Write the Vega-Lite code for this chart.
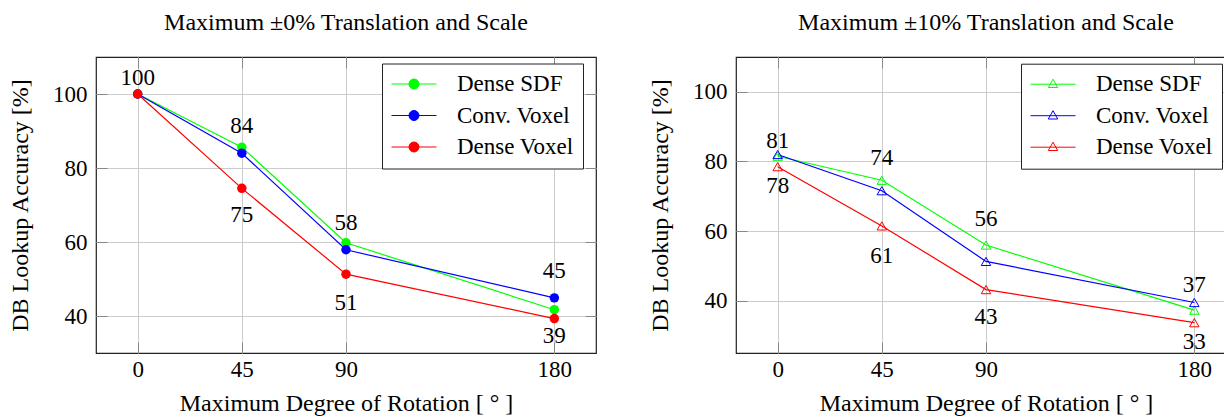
{
  "$schema": "https://vega.github.io/schema/vega-lite/v6.json",
  "padding": {"left": 7, "top": 9, "right": 0, "bottom": 0},
  "bounds": "flush",
  "spacing": 140,
  "config": {
    "font": "Liberation Serif",
    "view": {"stroke": "#222222", "strokeWidth": 1.2},
    "axis": {
      "labelFont": "Liberation Serif", "labelFontSize": 23, "labelColor": "black",
      "titleFont": "Liberation Serif", "titleFontSize": 24, "titleFontWeight": "normal", "titleColor": "black",
      "gridColor": "#cccccc", "gridWidth": 1, "domain": false,
      "tickColor": "#888888", "tickSize": -11, "tickWidth": 1
    },
    "title": {"font": "Liberation Serif", "fontSize": 24, "fontWeight": "normal", "color": "black"},
    "text": {"font": "Liberation Serif"}
  },
  "datasets": {
    "p0": [
      {"series": "Dense SDF", "deg": 0, "acc": 100},
      {"series": "Dense SDF", "deg": 45, "acc": 85.6},
      {"series": "Dense SDF", "deg": 90, "acc": 59.8},
      {"series": "Dense SDF", "deg": 180, "acc": 41.7},
      {"series": "Conv. Voxel", "deg": 0, "acc": 100},
      {"series": "Conv. Voxel", "deg": 45, "acc": 84.0},
      {"series": "Conv. Voxel", "deg": 90, "acc": 57.9},
      {"series": "Conv. Voxel", "deg": 180, "acc": 44.9},
      {"series": "Dense Voxel", "deg": 0, "acc": 100},
      {"series": "Dense Voxel", "deg": 45, "acc": 74.5},
      {"series": "Dense Voxel", "deg": 90, "acc": 51.3},
      {"series": "Dense Voxel", "deg": 180, "acc": 39.3}
    ],
    "l0": [
      {"deg": 0, "ly": 104.2, "label": "100"},
      {"deg": 45, "ly": 91.4, "label": "84"},
      {"deg": 45, "ly": 67.2, "label": "75"},
      {"deg": 90, "ly": 65.1, "label": "58"},
      {"deg": 90, "ly": 43.4, "label": "51"},
      {"deg": 180, "ly": 52.1, "label": "45"},
      {"deg": 180, "ly": 34.5, "label": "39"}
    ],
    "p1": [
      {"series": "Dense SDF", "deg": 0, "acc": 81.5},
      {"series": "Dense SDF", "deg": 45, "acc": 74.6},
      {"series": "Dense SDF", "deg": 90, "acc": 56.0},
      {"series": "Dense SDF", "deg": 180, "acc": 37.3},
      {"series": "Conv. Voxel", "deg": 0, "acc": 82.0},
      {"series": "Conv. Voxel", "deg": 45, "acc": 71.6},
      {"series": "Conv. Voxel", "deg": 90, "acc": 51.3},
      {"series": "Conv. Voxel", "deg": 180, "acc": 39.5},
      {"series": "Dense Voxel", "deg": 0, "acc": 78.5},
      {"series": "Dense Voxel", "deg": 45, "acc": 61.5},
      {"series": "Dense Voxel", "deg": 90, "acc": 43.2},
      {"series": "Dense Voxel", "deg": 180, "acc": 33.7}
    ],
    "l1": [
      {"deg": 0, "ly": 85.9, "label": "81"},
      {"deg": 0, "ly": 73.0, "label": "78"},
      {"deg": 45, "ly": 80.9, "label": "74"},
      {"deg": 45, "ly": 52.9, "label": "61"},
      {"deg": 90, "ly": 63.4, "label": "56"},
      {"deg": 90, "ly": 35.2, "label": "43"},
      {"deg": 180, "ly": 44.5, "label": "37"},
      {"deg": 180, "ly": 28.2, "label": "33"}
    ]
  },
  "resolve": {
    "scale": {"x": "independent", "y": "independent", "color": "independent"},
    "legend": {"color": "independent"}
  },
  "hconcat": [
    {
      "width": 500, "height": 296,
      "title": {"text": "Maximum ±0% Translation and Scale", "baseline": "alphabetic", "offset": 3},
      "resolve": {"axis": {"x": "independent", "y": "independent"}},
      "layer": [
        {
          "data": {"name": "p0"},
          "mark": {"type": "line", "strokeWidth": 1.2},
          "encoding": {
            "x": {"field": "deg", "type": "quantitative",
                  "scale": {"domain": [-18, 198], "nice": false, "zero": false},
                  "axis": {"values": [0, 45, 90, 180], "title": "Maximum Degree of Rotation [ ° ]", "labelPadding": 16, "titlePadding": 10}},
            "y": {"field": "acc", "type": "quantitative",
                  "scale": {"domain": [30, 110], "nice": false, "zero": false},
                  "axis": {"values": [40, 60, 80, 100], "title": "DB Lookup Accuracy [%]", "labelPadding": 20, "titlePadding": 20}},
            "color": {"field": "series", "type": "nominal",
                      "scale": {"domain": ["Dense SDF", "Conv. Voxel", "Dense Voxel"], "range": ["#00ff00", "#0000ff", "#ff0000"]},
                      "legend": {
                        "title": null, "orient": "none", "legendX": 286, "legendY": 6.5,
                        "symbolType": "M-1.1,0H3.4M1.65,0A0.5,0.5 0 1 1 0.65,0A0.5,0.5 0 1 1 1.65,0",
                        "symbolSize": 400, "symbolStrokeWidth": 1,
                        "labelFont": "Liberation Serif", "labelFontSize": 23, "labelColor": "black", "labelOffset": 43,
                        "padding": 9, "rowPadding": 7.5,
                        "fillColor": "white", "strokeColor": "#222222",
                        "encode": {"symbols": {"update": {
                          "fill": {"signal": "datum.value === 'Dense SDF' ? '#00ff00' : datum.value === 'Conv. Voxel' ? '#0000ff' : '#ff0000'"},
                          "stroke": {"signal": "datum.value === 'Dense SDF' ? '#00ff00' : datum.value === 'Conv. Voxel' ? '#0000ff' : '#ff0000'"},
                          "opacity": {"value": 1}}}}
                      }}
          }
        },
        {
          "data": {"name": "p0"},
          "mark": {"type": "point", "filled": true, "size": 90, "opacity": 1, "shape": "circle"},
          "encoding": {
            "x": {"field": "deg", "type": "quantitative", "axis": null},
            "y": {"field": "acc", "type": "quantitative", "axis": null},
            "color": {"field": "series", "type": "nominal",
                      "scale": {"domain": ["Dense SDF", "Conv. Voxel", "Dense Voxel"], "range": ["#00ff00", "#0000ff", "#ff0000"]},
                      "legend": {
                        "title": null, "orient": "none", "legendX": 286, "legendY": 6.5,
                        "symbolType": "M-1.1,0H3.4M1.65,0A0.5,0.5 0 1 1 0.65,0A0.5,0.5 0 1 1 1.65,0",
                        "symbolSize": 400, "symbolStrokeWidth": 1,
                        "labelFont": "Liberation Serif", "labelFontSize": 23, "labelColor": "black", "labelOffset": 43,
                        "padding": 9, "rowPadding": 7.5,
                        "fillColor": "white", "strokeColor": "#222222",
                        "encode": {"symbols": {"update": {
                          "fill": {"signal": "datum.value === 'Dense SDF' ? '#00ff00' : datum.value === 'Conv. Voxel' ? '#0000ff' : '#ff0000'"},
                          "stroke": {"signal": "datum.value === 'Dense SDF' ? '#00ff00' : datum.value === 'Conv. Voxel' ? '#0000ff' : '#ff0000'"},
                          "opacity": {"value": 1}}}}
                      }}
          }
        },
        {
          "data": {"name": "l0"},
          "mark": {"type": "text", "fontSize": 23, "baseline": "middle", "color": "black"},
          "encoding": {
            "x": {"field": "deg", "type": "quantitative",
                  "axis": {"orient": "top", "values": [0, 45, 90, 180], "labels": false, "grid": false, "title": null, "minExtent": 0, "maxExtent": 0}},
            "y": {"field": "ly", "type": "quantitative",
                  "axis": {"orient": "right", "values": [40, 60, 80, 100], "labels": false, "grid": false, "title": null, "minExtent": 0, "maxExtent": 0}},
            "text": {"field": "label"}
          }
        }
      ]
    },
    {
      "width": 500, "height": 296,
      "title": {"text": "Maximum ±10% Translation and Scale", "baseline": "alphabetic", "offset": 3},
      "resolve": {"axis": {"x": "independent", "y": "independent"}},
      "layer": [
        {
          "data": {"name": "p1"},
          "mark": {"type": "line", "strokeWidth": 1.2},
          "encoding": {
            "x": {"field": "deg", "type": "quantitative",
                  "scale": {"domain": [-18, 198], "nice": false, "zero": false},
                  "axis": {"values": [0, 45, 90, 180], "title": "Maximum Degree of Rotation [ ° ]", "labelPadding": 16, "titlePadding": 10}},
            "y": {"field": "acc", "type": "quantitative",
                  "scale": {"domain": [25, 110], "nice": false, "zero": false},
                  "axis": {"values": [40, 60, 80, 100], "title": "DB Lookup Accuracy [%]", "labelPadding": 20, "titlePadding": 20}},
            "color": {"field": "series", "type": "nominal",
                      "scale": {"domain": ["Dense SDF", "Conv. Voxel", "Dense Voxel"], "range": ["#00ff00", "#0000ff", "#ff0000"]},
                      "legend": {
                        "title": null, "orient": "none", "legendX": 285, "legendY": 6.7,
                        "symbolType": "M-1.1,0H3.4M1.15,-0.5L1.62,0.33L0.68,0.33Z",
                        "symbolSize": 400, "symbolStrokeWidth": 1,
                        "labelFont": "Liberation Serif", "labelFontSize": 23, "labelColor": "black", "labelOffset": 43,
                        "padding": 9, "rowPadding": 7.5,
                        "fillColor": "white", "strokeColor": "#222222",
                        "encode": {"symbols": {"update": {
                          "fill": {"value": "transparent"},
                          "stroke": {"signal": "datum.value === 'Dense SDF' ? '#00ff00' : datum.value === 'Conv. Voxel' ? '#0000ff' : '#ff0000'"},
                          "opacity": {"value": 1}}}}
                      }}
          }
        },
        {
          "data": {"name": "p1"},
          "mark": {"type": "point", "filled": false, "size": 90, "opacity": 1, "shape": "triangle-up", "strokeWidth": 1},
          "encoding": {
            "x": {"field": "deg", "type": "quantitative", "axis": null},
            "y": {"field": "acc", "type": "quantitative", "axis": null},
            "color": {"field": "series", "type": "nominal",
                      "scale": {"domain": ["Dense SDF", "Conv. Voxel", "Dense Voxel"], "range": ["#00ff00", "#0000ff", "#ff0000"]},
                      "legend": {
                        "title": null, "orient": "none", "legendX": 285, "legendY": 6.7,
                        "symbolType": "M-1.1,0H3.4M1.15,-0.5L1.62,0.33L0.68,0.33Z",
                        "symbolSize": 400, "symbolStrokeWidth": 1,
                        "labelFont": "Liberation Serif", "labelFontSize": 23, "labelColor": "black", "labelOffset": 43,
                        "padding": 9, "rowPadding": 7.5,
                        "fillColor": "white", "strokeColor": "#222222",
                        "encode": {"symbols": {"update": {
                          "fill": {"value": "transparent"},
                          "stroke": {"signal": "datum.value === 'Dense SDF' ? '#00ff00' : datum.value === 'Conv. Voxel' ? '#0000ff' : '#ff0000'"},
                          "opacity": {"value": 1}}}}
                      }}
          }
        },
        {
          "data": {"name": "l1"},
          "mark": {"type": "text", "fontSize": 23, "baseline": "middle", "color": "black"},
          "encoding": {
            "x": {"field": "deg", "type": "quantitative",
                  "axis": {"orient": "top", "values": [0, 45, 90, 180], "labels": false, "grid": false, "title": null, "minExtent": 0, "maxExtent": 0}},
            "y": {"field": "ly", "type": "quantitative",
                  "axis": {"orient": "right", "values": [40, 60, 80, 100], "labels": false, "grid": false, "title": null, "minExtent": 0, "maxExtent": 0}},
            "text": {"field": "label"}
          }
        }
      ]
    }
  ]
}
